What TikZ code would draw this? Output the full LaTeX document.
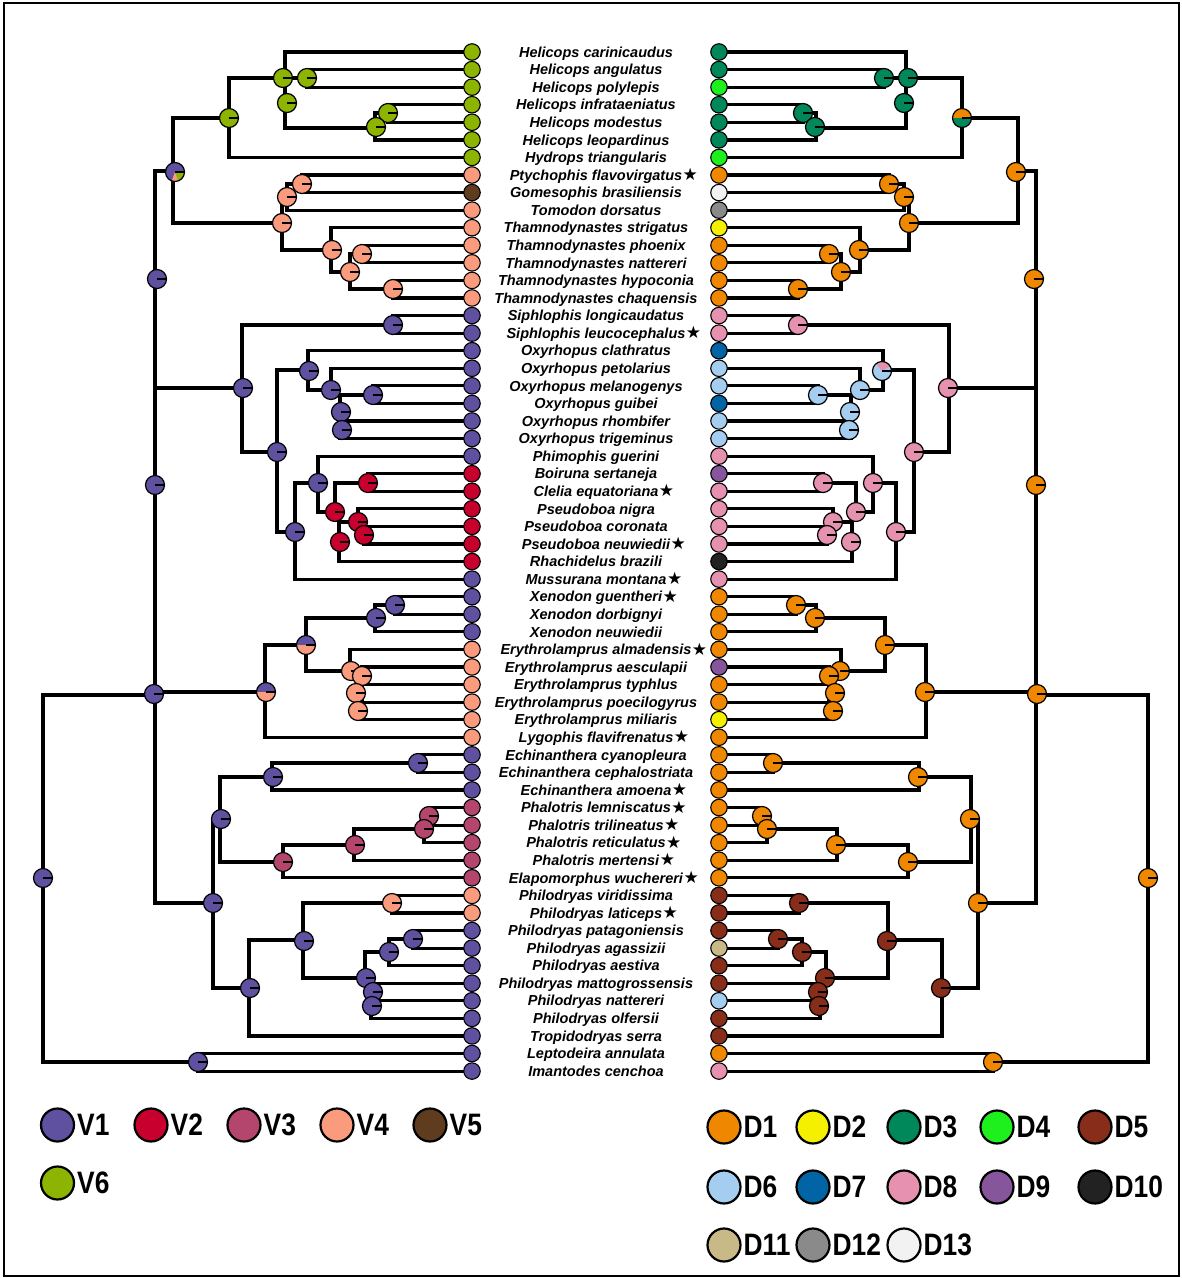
\documentclass[tikz,border=0pt]{standalone}
\usepackage{fontspec}
\setmainfont{Liberation Sans}
\newfontfamily\starf{DejaVu Sans}
\newfontfamily\legf[FakeStretch=0.85]{Liberation Sans}
\definecolor{V1}{RGB}{95,80,160}
\definecolor{V2}{RGB}{200,0,45}
\definecolor{V3}{RGB}{180,70,110}
\definecolor{V4}{RGB}{250,155,125}
\definecolor{V5}{RGB}{95,60,30}
\definecolor{V6}{RGB}{140,180,0}
\definecolor{D1}{RGB}{240,135,0}
\definecolor{D2}{RGB}{245,240,0}
\definecolor{D3}{RGB}{0,135,90}
\definecolor{D4}{RGB}{30,240,30}
\definecolor{D5}{RGB}{135,45,25}
\definecolor{D6}{RGB}{165,205,240}
\definecolor{D7}{RGB}{0,100,165}
\definecolor{D8}{RGB}{230,145,175}
\definecolor{D9}{RGB}{135,85,155}
\definecolor{D10}{RGB}{34,34,34}
\definecolor{D11}{RGB}{200,185,135}
\definecolor{D12}{RGB}{138,138,138}
\definecolor{D13}{RGB}{242,242,242}
\newcommand\st{\rlap{\hspace{0.5pt}\raisebox{-0.5pt}{\starf\fontsize{17}{17}\selectfont ★}}}
\newcommand\nodeP[3]{\fill[#3] (#1,#2) circle[radius=9.5pt]; \draw[nb] (#1,#2) circle[radius=9.5pt]; \draw[nb] (#1,#2) -- ++(9.5pt,0pt);}
\newcommand\wedgeP[5]{\fill[#5] (#1,#2) -- ++(#3:9.5pt) arc[start angle=#3, end angle=#4, radius=9.5pt] -- cycle;}
\newcommand\ringP[2]{\draw[nb] (#1,#2) circle[radius=9.5pt]; \draw[nb] (#1,#2) -- ++(9.5pt,0pt);}
\newcommand\treelines{%
% Helicops
\draw (472,52) -- (285,52) -- (285,128) -- (375,128);
\draw (472,69.6) -- (307,69.6) -- (307,87.1) -- (472,87.1);
\draw (285,78) -- (307,78);
\draw (472,104.7) -- (388,104.7) -- (388,122.3) -- (472,122.3);
\draw (388,113) -- (375,113) -- (375,139.9) -- (472,139.9);
\draw (285,78) -- (229,78) -- (229,157.4) -- (472,157.4);
\draw (229,118) -- (173,118) -- (173,223) -- (282,223);
\draw (173,171) -- (155,171) -- (155,903) -- (213,903);
% Ptychophis / Thamnodynastes
\draw (472,175) -- (302,175) -- (302,192.6) -- (472,192.6);
\draw (302,184) -- (287,184) -- (287,210.1) -- (472,210.1);
\draw (287,197) -- (282,197) -- (282,250) -- (331,250);
\draw (472,227.7) -- (331,227.7) -- (331,272) -- (350,272);
\draw (472,245.3) -- (362,245.3) -- (362,262.8) -- (472,262.8);
\draw (362,254) -- (350,254) -- (350,289) -- (393,289);
\draw (472,280.4) -- (393,280.4) -- (393,298) -- (472,298);
% Pseudoboini
\draw (472,315.6) -- (393,315.6) -- (393,333.1) -- (472,333.1);
\draw (393,325) -- (242,325) -- (242,452) -- (277,452);
\draw (155,388) -- (242,388);
\draw (308,370) -- (277,370) -- (277,532) -- (295,532);
\draw (472,350.7) -- (308,350.7) -- (308,390) -- (331,390);
\draw (472,368.3) -- (331,368.3) -- (331,395) -- (373,395);
\draw (472,385.8) -- (373,385.8) -- (373,403.4) -- (472,403.4);
\draw (340,395) -- (340,438.5) -- (472,438.5);
\draw (340,421) -- (472,421);
\draw (318,483) -- (295,483) -- (295,579.1) -- (472,579.1);
\draw (472,456.1) -- (318,456.1) -- (318,512) -- (339,512) -- (339,561.5) -- (472,561.5);
\draw (335,512) -- (335,483) -- (368,483);
\draw (472,473.7) -- (368,473.7) -- (368,491.3) -- (472,491.3);
\draw (339,522) -- (358,522);
\draw (472,508.8) -- (358,508.8) -- (358,526.4) -- (472,526.4);
\draw (364,526.4) -- (364,544) -- (472,544);
% Xenodon / Erythrolamprus
\draw (472,596.7) -- (395,596.7) -- (395,614.2) -- (472,614.2);
\draw (395,605) -- (375,605) -- (375,631.8) -- (472,631.8);
\draw (375,618) -- (306,618) -- (306,671) -- (362,671);
\draw (472,649.4) -- (350,649.4) -- (350,671);
\draw (362,667) -- (362,719.7) -- (472,719.7);
\draw (362,667) -- (472,667);
\draw (362,684.5) -- (472,684.5);
\draw (362,702.1) -- (472,702.1);
\draw (306,645) -- (265,645) -- (265,737.2) -- (472,737.2);
\draw (265,692) -- (155,692);
\draw (155,695) -- (43,695) -- (43,1062) -- (198,1062);
\draw (472,1053.5) -- (198,1053.5) -- (198,1071.1) -- (472,1071.1);
% Echinanthera / Phalotris
\draw (472,754.8) -- (418,754.8) -- (418,772.4) -- (472,772.4);
\draw (418,763) -- (272,763) -- (272,789.9) -- (472,789.9);
\draw (272,777) -- (220,777) -- (220,862) -- (283,862);
\draw (354,845) -- (283,845) -- (283,877.8) -- (472,877.8);
\draw (424,829) -- (354,829) -- (354,860.2) -- (472,860.2);
\draw (472,807.5) -- (429,807.5) -- (429,825.1) -- (472,825.1);
\draw (424,825.1) -- (424,842.7) -- (472,842.7);
\draw (220,819) -- (213,819) -- (213,988) -- (249,988);
% Philodryas
\draw (303,940) -- (249,940) -- (249,1035.9) -- (472,1035.9);
\draw (392,903) -- (303,903) -- (303,978) -- (371,978) -- (371,1018.4) -- (472,1018.4);
\draw (472,895.4) -- (392,895.4) -- (392,912.9) -- (472,912.9);
\draw (365,978) -- (365,952) -- (389,952);
\draw (413,939) -- (389,939) -- (389,965.6) -- (472,965.6);
\draw (472,930.5) -- (413,930.5) -- (413,948.1) -- (472,948.1);
\draw (371,983.2) -- (472,983.2);
\draw (371,1000.8) -- (472,1000.8);
}
\begin{document}
\begin{tikzpicture}[x=1pt,y=-1pt,
  tl/.style={line width=3.2pt, line join=miter, line cap=rect},
  nb/.style={line width=1.2pt, black},
  tipn/.style={circle, draw=black, line width=1.1pt, minimum size=16.5pt, inner sep=0pt},
  lab/.style={anchor=base, inner sep=0pt, font=\fontsize{14.5}{14.5}\selectfont\bfseries\itshape},
  lgc/.style={circle, draw=black, line width=2.2pt, minimum size=33pt, inner sep=0pt},
  lgt/.style={anchor=west, inner sep=0pt, font=\legf\fontsize{31}{31}\selectfont\bfseries}]
\useasboundingbox (0,0) rectangle (1182,1278);
\fill[white] (0,0) rectangle (1182,1278);
\draw[line width=2.5pt] (4,3) rectangle (1179,1276);
% trees
\begin{scope}[tl]
  \treelines
  \draw[line width=4.5pt] (155,279) -- (155,388);
\end{scope}
\begin{scope}[tl, shift={(1191,0)}, xscale=-1]
  \treelines
  \draw[line width=4.5pt] (155,279) -- (155,695);
\end{scope}
% tips and labels
\foreach \n/\lc/\rc [count=\i] in {
Helicops carinicaudus/V6/D3,
Helicops angulatus/V6/D3,
Helicops polylepis/V6/D4,
Helicops infrataeniatus/V6/D3,
Helicops modestus/V6/D3,
Helicops leopardinus/V6/D3,
Hydrops triangularis/V6/D4,
Ptychophis flavovirgatus\st/V4/D1,
Gomesophis brasiliensis/V5/D13,
Tomodon dorsatus/V4/D12,
Thamnodynastes strigatus/V4/D2,
Thamnodynastes phoenix/V4/D1,
Thamnodynastes nattereri/V4/D1,
Thamnodynastes hypoconia/V4/D1,
Thamnodynastes chaquensis/V4/D1,
Siphlophis longicaudatus/V1/D8,
Siphlophis leucocephalus\st/V1/D8,
Oxyrhopus clathratus/V1/D7,
Oxyrhopus petolarius/V1/D6,
Oxyrhopus melanogenys/V1/D6,
Oxyrhopus guibei/V1/D7,
Oxyrhopus rhombifer/V1/D6,
Oxyrhopus trigeminus/V1/D6,
Phimophis guerini/V1/D8,
Boiruna sertaneja/V2/D9,
Clelia equatoriana\st/V2/D8,
Pseudoboa nigra/V2/D8,
Pseudoboa coronata/V2/D8,
Pseudoboa neuwiedii\st/V2/D8,
Rhachidelus brazili/V2/D10,
Mussurana montana\st/V1/D8,
Xenodon guentheri\st/V1/D1,
Xenodon dorbignyi/V1/D1,
Xenodon neuwiedii/V1/D1,
Erythrolamprus almadensis\st/V4/D1,
Erythrolamprus aesculapii/V4/D9,
Erythrolamprus typhlus/V4/D1,
Erythrolamprus poecilogyrus/V4/D1,
Erythrolamprus miliaris/V4/D2,
Lygophis flavifrenatus\st/V4/D1,
Echinanthera cyanopleura/V1/D1,
Echinanthera cephalostriata/V1/D1,
Echinanthera amoena\st/V1/D1,
Phalotris lemniscatus\st/V3/D1,
Phalotris trilineatus\st/V3/D1,
Phalotris reticulatus\st/V3/D1,
Phalotris mertensi\st/V3/D1,
Elapomorphus wuchereri\st/V3/D1,
Philodryas viridissima/V4/D5,
Philodryas laticeps\st/V4/D5,
Philodryas patagoniensis/V1/D5,
Philodryas agassizii/V1/D11,
Philodryas aestiva/V1/D5,
Philodryas mattogrossensis/V1/D5,
Philodryas nattereri/V1/D6,
Philodryas olfersii/V1/D5,
Tropidodryas serra/V1/D5,
Leptodeira annulata/V1/D1,
Imantodes cenchoa/V1/D8}{
  \pgfmathsetmacro\yy{52+(\i-1)*17.57}
  \node[tipn, fill=\lc] (l\i) at (472,\yy) {};
  \node[tipn, fill=\rc] (r\i) at (719,\yy) {};
  \node[lab] (t\i) at (596,\yy+5.2) {\n};
}
% left internal nodes
\foreach \x/\y in {283/78, 307/78, 287/103, 388/113, 376/127, 229/118} {\nodeP{\x}{\y}{V6}}
\foreach \x/\y in {302/184, 287/197, 282/223, 332/250, 362/254, 350/272, 393/289, 351/671, 362/676, 356/693, 358/711, 392/903} {\nodeP{\x}{\y}{V4}}
\foreach \x/\y in {157/279, 393/325, 243/388, 277/452, 309/371, 331/390, 373/395, 341/412, 342/430, 295/532, 318/483, 155/485, 154/694, 43/878, 395/605, 376/618, 418/763, 273/777, 221/819, 213/903, 250/988, 304/941, 366/978, 389/952, 413/939, 373/992, 372/1006, 198/1062} {\nodeP{\x}{\y}{V1}}
\foreach \x/\y in {368/483, 335/512, 358/522, 364/535, 340/542} {\nodeP{\x}{\y}{V2}}
\foreach \x/\y in {429/816, 424/829, 355/845, 283/862} {\nodeP{\x}{\y}{V3}}
% mixed left
\fill[V1] (175,172) circle[radius=9.5pt];
\wedgeP{175}{172}{-70}{0}{V6}
\wedgeP{175}{172}{-110}{-70}{V4}
\ringP{175}{172}
\foreach \x/\y in {306/645, 266/692} {
  \wedgeP{\x}{\y}{0}{180}{V1}
  \wedgeP{\x}{\y}{180}{360}{V4}
  \ringP{\x}{\y}
}
% right internal nodes
\foreach \x/\y in {908/78, 884/78, 904/103, 803/113, 815/127} {\nodeP{\x}{\y}{D3}}
\foreach \x/\y in {1016/172, 1034/279, 889/184, 904/197, 909/223, 859/250, 829/254, 841/272, 798/289, 1036/485, 1037/694, 1148/878, 796/605, 815/618, 885/645, 925/692, 840/671, 829/676, 835/693, 833/711, 773/763, 918/777, 970/819, 762/816, 767/829, 836/845, 908/862, 978/903, 993/1062} {\nodeP{\x}{\y}{D1}}
\foreach \x/\y in {798/325, 948/388, 914/452, 896/532, 873/483, 823/483, 856/512, 833/522, 827/535, 851/542} {\nodeP{\x}{\y}{D8}}
\foreach \x/\y in {860/390, 818/395, 850/412, 849/430} {\nodeP{\x}{\y}{D6}}
\foreach \x/\y in {799/903, 887/941, 941/988, 825/978, 802/952, 778/939, 818/992, 819/1006} {\nodeP{\x}{\y}{D5}}
% mixed right
\wedgeP{962}{118}{0}{180}{D1}
\wedgeP{962}{118}{180}{352}{D3}
\wedgeP{962}{118}{352}{360}{D4}
\ringP{962}{118}
\fill[D6] (882,371) circle[radius=9.5pt];
\wedgeP{882}{371}{30}{130}{D8}
\ringP{882}{371}
% legends
\foreach \c/\x in {V1/57.5, V2/151, V3/244, V4/337, V5/430} {
  \node[lgc, fill=\c] (lg\c) at (\x,1125) {};
  \node[lgt] at (\x+19.5,1125) {\c};
}
\node[lgc, fill=V6] (lgV6) at (57.5,1183) {};
\node[lgt] at (77,1183) {V6};
\foreach \c/\x/\y in {D1/724/1127, D2/813/1127, D3/904/1127, D4/997/1127, D5/1095/1127,
  D6/724/1187, D7/813/1187, D8/904/1187, D9/997/1187, D10/1095/1187,
  D11/724/1245, D12/813/1245, D13/904/1245} {
  \node[lgc, fill=\c] (lg\c) at (\x,\y) {};
  \node[lgt] at (\x+19.5,\y) {\c};
}
\end{tikzpicture}
\end{document}
